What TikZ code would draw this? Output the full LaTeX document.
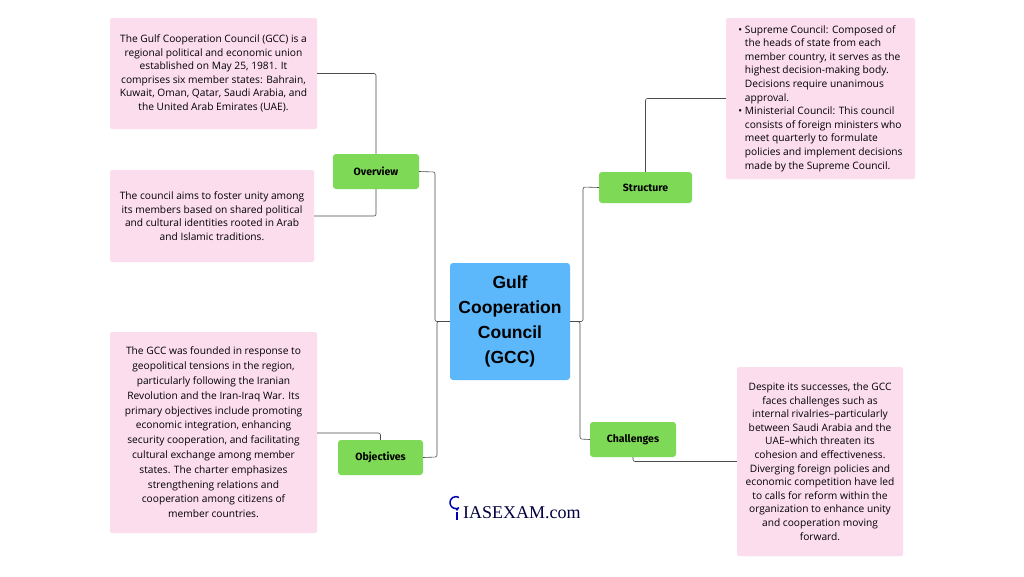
\documentclass[tikz,border=0pt]{standalone}
\usepackage{fontspec}
\setmainfont{Open Sans}
\newfontfamily\titlefont{Fira Sans}
\newfontfamily\cenfont{Liberation Sans}
\newfontfamily\logofont{Liberation Serif}
\begin{document}
\begin{tikzpicture}[x=1pt,y=-1pt,
 txt/.style={fill=txtc,rounded corners=2pt,align=center,inner sep=2pt,font=\fontsize{10.2}{13.6}\selectfont},
 topic/.style={fill=topc,rounded corners=3pt,font=\titlefont\bfseries\fontsize{10.5}{12}\selectfont},
 ln/.style={draw=black!70,line width=0.6pt,rounded corners=2pt}]
\definecolor{txtc}{HTML}{FCDDEE}
\definecolor{topc}{HTML}{7ED957}
\definecolor{cenc}{HTML}{5CB8FA}
\useasboundingbox (0,0) rectangle (1024,576);
\fill[white] (0,0) rectangle (1024,576);
\node[fill=cenc,rounded corners=3pt,minimum width=120pt,minimum height=117pt,align=center,font=\cenfont\bfseries\fontsize{17.5}{25}\selectfont] (c) at (510,321.5) {Gulf\\Cooperation\\Council\\(GCC)};
\node[topic,minimum width=86pt,minimum height=35pt] (ov) at (376,171.5) {Overview};
\node[topic,minimum width=93pt,minimum height=31pt] (st) at (645.5,187.5) {Structure};
\node[topic,minimum width=86pt,minimum height=35pt] (ch) at (633,439.5) {Challenges};
\node[topic,minimum width=85pt,minimum height=35pt] (ob) at (380.5,457.5) {Objectives};
\node[txt,minimum width=207pt,minimum height=111pt] (t1) at (213.5,73.5) {The Gulf Cooperation Council (GCC) is a\\regional political and economic union\\established on May 25, 1981. It\\comprises six member states: Bahrain,\\Kuwait, Oman, Qatar, Saudi Arabia, and\\the United Arab Emirates (UAE).};
\node[txt,minimum width=204pt,minimum height=92pt] (t2) at (212,216) {The council aims to foster unity among\\its members based on shared political\\and cultural identities rooted in Arab\\and Islamic traditions.};
\node[txt,minimum width=207pt,minimum height=201pt,font=\fontsize{10.2}{14.8}\selectfont] (t3) at (213.5,432.5) {The GCC was founded in response to\\geopolitical tensions in the region,\\particularly following the Iranian\\Revolution and the Iran-Iraq War. Its\\primary objectives include promoting\\economic integration, enhancing\\security cooperation, and facilitating\\cultural exchange among member\\states. The charter emphasizes\\strengthening relations and\\cooperation among citizens of\\member countries.};
\node[txt,minimum width=189pt,minimum height=161pt,align=left] (t4) at (820.5,98.5) {\textbullet\ Supreme Council: Composed of\\\phantom{\textbullet\ }the heads of state from each\\\phantom{\textbullet\ }member country, it serves as the\\\phantom{\textbullet\ }highest decision-making body.\\\phantom{\textbullet\ }Decisions require unanimous\\\phantom{\textbullet\ }approval.\\\textbullet\ Ministerial Council: This council\\\phantom{\textbullet\ }consists of foreign ministers who\\\phantom{\textbullet\ }meet quarterly to formulate\\\phantom{\textbullet\ }policies and implement decisions\\\phantom{\textbullet\ }made by the Supreme Council.};
\node[txt,minimum width=166pt,minimum height=189pt] (t5) at (820,461.5) {Despite its successes, the GCC\\faces challenges such as\\internal rivalries--particularly\\between Saudi Arabia and the\\UAE--which threaten its\\cohesion and effectiveness.\\Diverging foreign policies and\\economic competition have led\\to calls for reform within the\\organization to enhance unity\\and cooperation moving\\forward.};
\node[font=\logofont\fontsize{18}{20}\selectfont,text=black!75!blue,anchor=west,inner sep=0pt] (logo) at (463,513) {IASEXAM.com};
\draw[blue!70!black,line width=1.5pt] (logo.west) ++(-4,-5.2) arc[start angle=60,end angle=300,radius=6];
\fill[blue!70!black] (logo.west) ++(-6,-3.5) circle (1.3);
\draw[blue!70!black,line width=1.4pt] (logo.west) ++(-6,-1) -- ++(0,8);
\draw[ln] (c.west) -| (435,172) -- (ov.east);
\draw[ln] (c.west) -| (437,457) -- (ob.east);
\draw[ln] (c.east) -| (583,187) -- (st.west);
\draw[ln] (c.east) -| (580,439) -- (ch.west);
\draw[ln] (ov.north) |- (t1.east);
\draw[ln] (ov.south) |- (t2.east);
\draw[ln] (st.north) |- (t4.west);
\draw[ln] (ch.south) |- (t5.west);
\draw[ln] (ob.north) |- (t3.east |- 0,433);
\end{tikzpicture}
\end{document}
